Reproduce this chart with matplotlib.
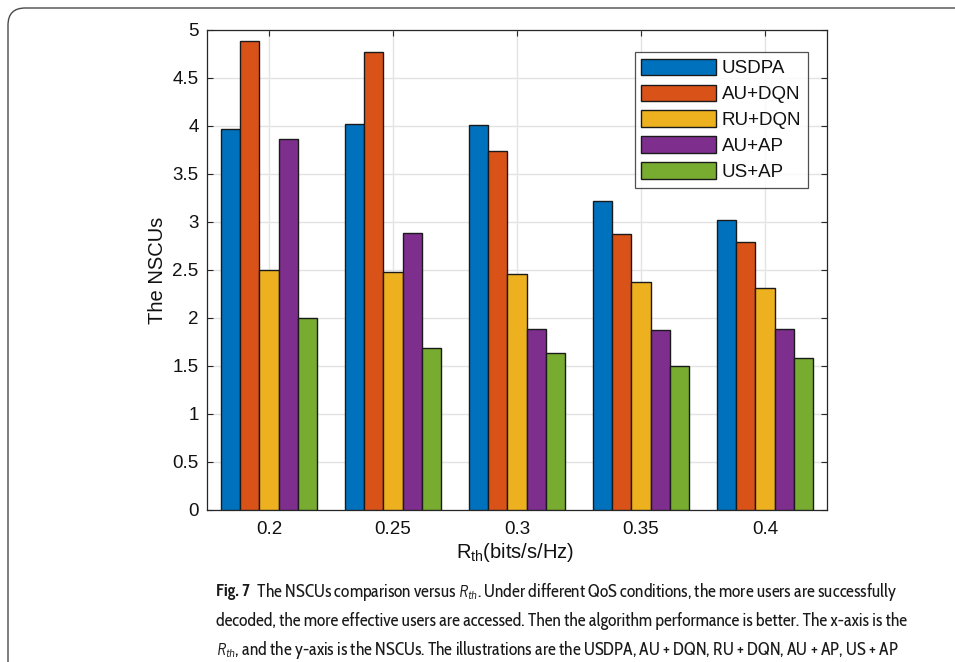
import matplotlib
matplotlib.use("Agg")
import matplotlib.pyplot as plt
import numpy as np
from matplotlib.patches import FancyBboxPatch

# ---- data ----
categories = ["0.2", "0.25", "0.3", "0.35", "0.4"]
series_names = ["USDPA", "AU+DQN", "RU+DQN", "AU+AP", "US+AP"]
usdpa = [3.97, 4.02, 4.01, 3.22, 3.02]
au_dqn = [4.89, 4.77, 3.74, 2.88, 2.79]
ru_dqn = [2.50, 2.48, 2.46, 2.37, 2.31]
au_ap = [3.86, 2.89, 1.89, 1.87, 1.89]
us_ap = [2.00, 1.69, 1.64, 1.50, 1.58]
yticks = [0, 0.5, 1, 1.5, 2, 2.5, 3, 3.5, 4, 4.5, 5]
ytick_labels = ["0", "0.5", "1", "1.5", "2", "2.5", "3", "3.5", "4", "4.5", "5"]
colors = ["#0072BD", "#D95319", "#EDB120", "#7E2F8E", "#77AC30"]

caption_bold = "Fig. 7"
caption_lines = [
    r"  The NSCUs comparison versus $R_{th}$. Under different QoS conditions, the more users are successfully",
    "decoded, the more effective users are accessed. Then the algorithm performance is better. The x-axis is the",
    r"$R_{th}$, and the y-axis is the NSCUs. The illustrations are the USDPA, AU + DQN, RU + DQN, AU + AP, US + AP",
]

plt.rcParams["font.family"] = ["Liberation Sans", "DejaVu Sans"]
plt.rcParams["mathtext.fontset"] = "custom"
plt.rcParams["mathtext.rm"] = "Liberation Sans"
plt.rcParams["mathtext.it"] = "Barlow Semi Condensed:italic"

W, H = 955, 662
fig = plt.figure(figsize=(W / 100, H / 100), dpi=100)

# outer rounded frame
frame = FancyBboxPatch((8 / W, -30 / H), (W + 30 - 8) / W, (H - 8 + 30) / H,
                       boxstyle="round,pad=0,rounding_size=0.018",
                       transform=fig.transFigure, fill=False,
                       edgecolor="#4a4a4a", linewidth=1.0, mutation_aspect=W / H)
fig.patches.append(frame)

ax_l, ax_r, ax_t, ax_b = 207, 827, 30, 510
ax = fig.add_axes([ax_l / W, 1 - ax_b / H, (ax_r - ax_l) / W, (ax_b - ax_t) / H])

data = [usdpa, au_dqn, ru_dqn, au_ap, us_ap]
x = np.arange(1, len(categories) + 1)
bw = 0.155
for i, (vals, name, c) in enumerate(zip(data, series_names, colors)):
    ax.bar(x + (i - 2) * bw, vals, width=bw, color=c, edgecolor="#1a1a1a",
           linewidth=1.0, label=name, zorder=3)

ax.set_xlim(0.5, 5.5)
ax.set_ylim(0, 5)
ax.set_xticks(x)
ax.set_xticklabels(categories)
ax.set_yticks(yticks)
ax.set_yticklabels(ytick_labels)
ax.grid(True, color="#e3e3e3", linewidth=1.0, zorder=0)
ax.set_axisbelow(True)
ax.tick_params(direction="in", length=4.5, width=0.8, colors="#262626",
               labelsize=13.5, labelcolor="#111111", top=True, right=True)
ax.tick_params(axis="y", pad=6)
ax.tick_params(axis="x", pad=8)
for s in ax.spines.values():
    s.set_color("#262626")
    s.set_linewidth(0.9)

fig.text(157 / W, 1 - 270 / H, "The NSCUs", rotation=90, ha="center", va="center",
         fontsize=14.5, color="#111111")
fig.text(515 / W, 1 - 552 / H, r"R$_{\mathrm{th}}$(bits/s/Hz)", ha="center", va="center",
         fontsize=14.5, color="#111111")

leg = ax.legend(loc="upper right", bbox_to_anchor=(808 / W, 1 - 52 / H),
                bbox_transform=fig.transFigure, fontsize=13.5, frameon=True,
                fancybox=False, edgecolor="#262626", handlelength=4.0,
                handleheight=1.0, handletextpad=0.3, labelspacing=0.38,
                borderpad=0.35, borderaxespad=0)
leg.get_frame().set_linewidth(0.9)
for t in leg.get_texts():
    t.set_color("#111111")

# caption
cap_font = ["Cabin Condensed", "DejaVu Sans"]
fig.canvas.draw()
renderer = fig.canvas.get_renderer()
probe = fig.text(0, 0, caption_lines[1], fontsize=14, family=cap_font)
wpx = probe.get_window_extent(renderer).width
probe.remove()
fs = 14 * (907 - 216) / wpx

ys = [592, 621, 650]
tb = fig.text(216 / W, 1 - ys[0] / H, caption_bold, fontsize=fs, family=cap_font,
              fontweight="bold", va="center", color="#1a1a1a")
bw_px = tb.get_window_extent(renderer).width
fig.text((216 + bw_px) / W, 1 - ys[0] / H, caption_lines[0], fontsize=fs,
         family=cap_font, va="center", color="#1a1a1a")
for line, yy in zip(caption_lines[1:], ys[1:]):
    fig.text(216 / W, 1 - yy / H, line, fontsize=fs, family=cap_font,
             va="center", color="#1a1a1a")

fig.savefig("out.png", dpi=100)
